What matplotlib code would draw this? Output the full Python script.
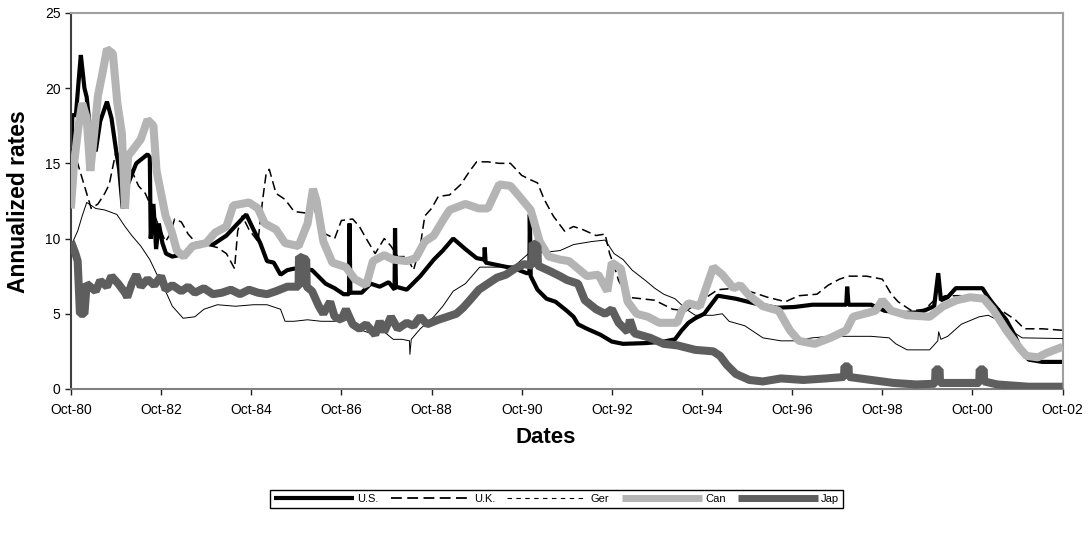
import numpy as np
import matplotlib
matplotlib.use("Agg")
import matplotlib.pyplot as plt
from matplotlib.lines import Line2D

plt.rcParams['font.family'] = ['Liberation Sans', 'DejaVu Sans']

# decimal-year breakpoints, one pair of arrays per country
us_t = [1980.75, 1980.78, 1980.86, 1980.93, 1980.97, 1981.05, 1981.1, 1981.2, 1981.3, 1981.4,
        1981.55, 1981.65, 1981.75, 1981.82, 1981.9, 1982.0, 1982.2, 1982.45, 1982.5, 1982.52,
        1982.58, 1982.64, 1982.7, 1982.78, 1982.86, 1983.0, 1983.3, 1983.6, 1983.9, 1984.2,
        1984.45, 1984.64, 1984.8, 1984.95, 1985.1, 1985.25, 1985.4, 1985.55, 1985.7, 1985.9,
        1986.1, 1986.4, 1986.6, 1986.8, 1986.92, 1986.93, 1986.95, 1987.2, 1987.4, 1987.6,
        1987.8, 1987.93, 1987.94, 1987.96, 1988.2, 1988.5, 1988.8, 1989.0, 1989.23, 1989.5,
        1989.75, 1989.92, 1989.93, 1989.95, 1990.27, 1990.6, 1990.86, 1990.92, 1990.93, 1990.95,
        1991.1, 1991.3, 1991.5, 1991.75, 1991.9, 1992.0, 1992.2, 1992.5, 1992.75, 1993.0,
        1993.5, 1993.9, 1994.15, 1994.3, 1994.45, 1994.6, 1994.8, 1995.1, 1995.5, 1995.9,
        1996.4, 1996.8, 1997.2, 1997.6, 1997.95, 1997.97, 1998.0, 1998.5, 1998.8, 1999.2,
        1999.6, 1999.9, 1999.99, 2000.05, 2000.2, 2000.38, 2000.97, 2001.1, 2001.2, 2001.5,
        2001.7, 2001.85, 2002.0, 2002.3, 2002.75]
us_v = [12.5, 18.2, 18.2, 20.8, 22.2, 20.0, 19.4, 16.5, 15.8, 17.8,
        19.1, 18.0, 15.9, 14.6, 12.0, 13.5, 15.0, 15.6, 15.4, 10.0,
        12.3, 9.3, 11.0, 9.7, 9.0, 8.8, 9.0, 9.7, 9.6, 10.2,
        11.0, 11.6, 10.6, 9.7, 8.5, 8.4, 7.6, 7.9, 8.0, 8.0,
        7.9, 7.0, 6.7, 6.3, 6.3, 11.0, 6.4, 6.4, 7.0, 6.8,
        7.1, 6.6, 10.7, 6.8, 6.6, 7.5, 8.6, 9.2, 10.0, 9.3,
        8.7, 8.6, 9.4, 8.4, 8.2, 8.0, 7.7, 7.7, 11.6, 7.5,
        6.6, 6.0, 5.8, 5.2, 4.8, 4.3, 4.0, 3.6, 3.15, 3.0,
        3.05, 3.15, 3.3, 3.9, 4.4, 4.7, 5.0, 6.2, 6.0, 5.7,
        5.4, 5.45, 5.6, 5.6, 5.6, 6.8, 5.6, 5.6, 5.2, 5.05,
        5.1, 5.5, 7.7, 5.9, 6.1, 6.7, 6.7, 6.1, 5.7, 4.6,
        3.5, 2.4, 1.95, 1.8, 1.8]

uk_t = [1980.75, 1980.9, 1981.05, 1981.2, 1981.35, 1981.5, 1981.6, 1981.75, 1981.9, 1982.1,
        1982.25, 1982.4, 1982.55, 1982.7, 1982.85, 1982.95, 1983.05, 1983.2, 1983.35, 1983.5,
        1983.75, 1984.0, 1984.2, 1984.38, 1984.45, 1984.55, 1984.7, 1984.9, 1985.0, 1985.08,
        1985.15, 1985.3, 1985.5, 1985.7, 1985.95, 1986.1, 1986.25, 1986.4, 1986.6, 1986.75,
        1987.0, 1987.15, 1987.3, 1987.5, 1987.7, 1987.85, 1988.0, 1988.2, 1988.35, 1988.5,
        1988.6, 1988.75, 1988.9, 1989.15, 1989.4, 1989.6, 1989.75, 1990.0, 1990.25, 1990.5,
        1990.75, 1990.95, 1991.1, 1991.25, 1991.45, 1991.7, 1991.9, 1992.1, 1992.4, 1992.6,
        1992.7, 1992.8, 1992.9, 1993.1, 1993.4, 1993.7, 1993.9, 1994.1, 1994.4, 1994.6,
        1994.8, 1995.1, 1995.5, 1995.9, 1996.2, 1996.6, 1996.9, 1997.3, 1997.55, 1997.8,
        1998.0, 1998.4, 1998.75, 1998.95, 1999.1, 1999.4, 1999.7, 1999.9, 2000.15, 2000.5,
        2000.9, 2001.15, 2001.45, 2001.7, 2001.9, 2002.3, 2002.75]
uk_v = [16.0, 15.0, 13.5, 12.0, 12.3, 13.0, 13.6, 15.8, 15.3, 14.5,
        13.5, 13.0, 12.0, 10.8, 9.8, 10.3, 11.3, 11.1, 10.3, 9.8,
        9.6, 9.4, 9.0, 8.0, 10.5, 11.5, 10.6, 9.8, 12.5, 14.3,
        14.6, 13.0, 12.6, 11.8, 11.7, 12.5, 11.0, 10.3, 10.0, 11.2,
        11.3, 10.8, 10.0, 9.0, 10.0, 9.5, 8.8, 8.8, 7.9, 9.5,
        11.5, 12.0, 12.8, 12.9, 13.6, 14.5, 15.1, 15.1, 15.0, 15.0,
        14.2, 13.9, 13.7, 12.6, 11.5, 10.5, 10.8, 10.6, 10.2, 10.3,
        9.0, 8.2, 7.2, 6.1, 6.0, 5.9, 5.6, 5.3, 5.2, 5.6,
        6.0, 6.6, 6.7, 6.4, 6.1, 5.8, 6.2, 6.3, 6.9, 7.3,
        7.5, 7.5, 7.3, 6.3, 5.8, 5.2, 5.3, 5.9, 6.2, 6.2,
        6.0, 5.7, 5.1, 4.6, 4.0, 4.0, 3.9]

ger_t = [1980.75, 1980.9, 1981.0, 1981.1, 1981.3, 1981.5, 1981.77, 1981.95, 1982.1, 1982.3,
         1982.5, 1982.66, 1982.88, 1983.0, 1983.24, 1983.5, 1983.7, 1984.0, 1984.4, 1984.8,
         1985.1, 1985.4, 1985.5, 1985.7, 1986.0, 1986.3, 1986.6, 1986.9, 1987.1, 1987.4,
         1987.7, 1987.9, 1988.1, 1988.26, 1988.27, 1988.3, 1988.5, 1988.8, 1989.0, 1989.23,
         1989.5, 1989.82, 1990.2, 1990.6, 1990.9, 1991.3, 1991.6, 1991.9, 1992.3, 1992.6,
         1992.8, 1993.0, 1993.2, 1993.5, 1993.7, 1993.9, 1994.15, 1994.4, 1994.6, 1995.0,
         1995.2, 1995.35, 1995.7, 1996.1, 1996.5, 1996.8, 1997.2, 1997.6, 1998.0, 1998.5,
         1998.9, 1999.05, 1999.3, 1999.8, 1999.98, 2000.0, 2000.05, 2000.2, 2000.5, 2000.9,
         2001.1, 2001.3, 2001.7, 2001.85, 2002.75]
ger_v = [9.5, 10.5, 11.5, 12.4, 12.0, 11.9, 11.6, 10.8, 10.2, 9.5,
         8.6, 7.6, 6.3, 5.5, 4.7, 4.8, 5.3, 5.6, 5.5, 5.6,
         5.6, 5.3, 4.5, 4.5, 4.6, 4.5, 4.5, 4.6, 4.0, 3.7,
         3.8, 3.3, 3.3, 3.2, 2.3, 3.3, 4.0, 4.8, 5.5, 6.5,
         7.0, 8.1, 8.1, 8.2, 9.0, 9.1, 9.2, 9.6, 9.8, 9.9,
         9.0, 8.6, 7.9, 7.2, 6.7, 6.3, 6.0, 5.3, 4.9, 4.9,
         5.0, 4.5, 4.2, 3.4, 3.2, 3.2, 3.4, 3.5, 3.5, 3.5,
         3.4, 3.0, 2.6, 2.6, 3.2, 3.8, 3.3, 3.5, 4.3, 4.8,
         4.9, 4.6, 3.7, 3.4, 3.35]

can_t = [1980.75, 1980.82, 1980.92, 1981.0, 1981.1, 1981.18, 1981.25, 1981.35, 1981.45, 1981.55,
         1981.68, 1981.78, 1981.88, 1981.95, 1982.02, 1982.15, 1982.3, 1982.45, 1982.58, 1982.65,
         1982.75, 1982.85, 1982.98, 1983.1, 1983.25, 1983.45, 1983.75, 1983.95, 1984.2, 1984.35,
         1984.7, 1984.9, 1985.05, 1985.3, 1985.5, 1985.8, 1986.0, 1986.12, 1986.2, 1986.35,
         1986.55, 1986.85, 1987.05, 1987.3, 1987.45, 1987.7, 1987.9, 1988.2, 1988.4, 1988.6,
         1988.8, 1989.0, 1989.15, 1989.5, 1989.8, 1990.0, 1990.25, 1990.5, 1990.7, 1990.95,
         1991.15, 1991.35, 1991.6, 1991.8, 1992.0, 1992.2, 1992.45, 1992.65, 1992.75, 1992.95,
         1993.1, 1993.3, 1993.55, 1993.8, 1994.2, 1994.3, 1994.45, 1994.7, 1995.0, 1995.2,
         1995.45, 1995.6, 1995.8, 1996.1, 1996.45, 1996.7, 1996.9, 1997.25, 1997.6, 1997.95,
         1998.1, 1998.6, 1998.75, 1998.95, 1999.3, 1999.8, 2000.1, 2000.4, 2000.7, 2001.0,
         2001.2, 2001.5, 2001.8, 2001.95, 2002.2, 2002.4, 2002.75]
can_v = [12.0, 15.0, 17.5, 19.0, 18.0, 14.5, 16.5, 19.5, 21.0, 22.6,
         22.3, 19.0, 17.0, 12.0, 15.5, 16.0, 16.6, 17.9, 17.5, 14.5,
         13.0, 11.5, 10.5, 9.2, 8.8, 9.5, 9.7, 10.4, 10.8, 12.2,
         12.4, 12.0, 11.0, 10.6, 9.7, 9.5, 11.0, 13.3, 12.5, 9.8,
         8.4, 8.1, 7.3, 6.9, 8.5, 8.9, 8.6, 8.5, 8.7, 9.8,
         10.2, 11.2, 11.9, 12.3, 12.0, 12.0, 13.6, 13.5, 12.8, 11.9,
         9.8, 8.8, 8.6, 8.5, 8.0, 7.5, 7.6, 6.5, 8.4, 8.0,
         5.8, 5.0, 4.8, 4.4, 4.4, 5.2, 5.7, 5.5, 8.1, 7.6,
         6.7, 6.9, 6.2, 5.5, 5.2, 3.9, 3.2, 3.0, 3.4, 3.9,
         4.8, 5.2, 5.9, 5.2, 4.9, 4.8, 5.5, 5.9, 6.1, 6.0,
         5.3, 3.9, 2.7, 2.2, 2.1, 2.4, 2.8]

jap_t = [1980.75, 1980.85, 1980.9, 1980.95, 1981.05, 1981.1, 1981.3, 1981.4, 1981.55, 1981.65,
         1981.8, 1981.95, 1982.0, 1982.1, 1982.2, 1982.3, 1982.45, 1982.6, 1982.75, 1982.85,
         1983.0, 1983.2, 1983.35, 1983.5, 1983.7, 1983.9, 1984.1, 1984.3, 1984.5, 1984.7,
         1984.9, 1985.1, 1985.3, 1985.55, 1985.8, 1985.81, 1985.97, 1985.98, 1986.1, 1986.25,
         1986.35, 1986.5, 1986.6, 1986.75, 1986.85, 1987.0, 1987.15, 1987.3, 1987.5, 1987.6,
         1987.7, 1987.85, 1988.0, 1988.2, 1988.35, 1988.5, 1988.65, 1988.9, 1989.1, 1989.3,
         1989.45, 1989.6, 1989.8, 1990.0, 1990.2, 1990.4, 1990.6, 1990.8, 1990.98, 1990.99,
         1991.1, 1991.11, 1991.4, 1991.6, 1991.75, 1992.0, 1992.15, 1992.4, 1992.6, 1992.75,
         1992.9, 1993.1, 1993.15, 1993.25, 1993.6, 1993.9, 1994.2, 1994.6, 1995.0, 1995.15,
         1995.3, 1995.5, 1995.8, 1996.1, 1996.5, 1997.0, 1997.5, 1997.9, 1997.91, 1998.0,
         1998.01, 1998.5, 1999.0, 1999.5, 1999.92, 1999.93, 2000.02, 2000.03, 2000.6, 2000.9,
         2000.91, 2001.0, 2001.01, 2001.3, 2002.0, 2002.75]
jap_v = [9.8, 9.0, 8.5, 5.0, 5.0, 7.0, 6.5, 7.2, 6.8, 7.5,
         7.0, 6.4, 6.1, 7.0, 7.6, 6.8, 7.3, 6.9, 7.5, 6.6,
         6.9, 6.5, 6.8, 6.4, 6.7, 6.3, 6.4, 6.6, 6.3, 6.6,
         6.4, 6.3, 6.5, 6.8, 6.8, 8.8, 8.6, 6.8, 6.5, 5.5,
         5.0, 5.8, 4.8, 4.6, 5.3, 4.3, 4.0, 4.3, 3.6, 4.5,
         3.8, 4.8, 4.0, 4.4, 4.2, 4.8, 4.3, 4.6, 4.8, 5.0,
         5.4, 5.9, 6.6, 7.0, 7.4, 7.6, 8.0, 8.3, 8.2, 9.7,
         9.5, 8.2, 7.8, 7.5, 7.25, 7.0, 5.9, 5.3, 5.0, 5.3,
         4.4, 3.8, 4.6, 3.7, 3.4, 3.0, 2.9, 2.6, 2.5, 2.2,
         1.6, 1.0, 0.6, 0.5, 0.7, 0.6, 0.7, 0.8, 1.5, 1.5,
         0.8, 0.6, 0.4, 0.3, 0.35, 1.3, 1.3, 0.4, 0.4, 0.4,
         1.3, 1.3, 0.5, 0.3, 0.15, 0.15]

tick_years = [1980.75, 1982.75, 1984.75, 1986.75, 1988.75, 1990.75,
              1992.75, 1994.75, 1996.75, 1998.75, 2000.75, 2002.75]
tick_labels = ['Oct-80', 'Oct-82', 'Oct-84', 'Oct-86', 'Oct-88', 'Oct-90',
               'Oct-92', 'Oct-94', 'Oct-96', 'Oct-98', 'Oct-00', 'Oct-02']
series_names = ['U.S.', 'U.K.', 'Ger', 'Can', 'Jap']

can_col = '#b4b4b4'
jap_col = '#5e5e5e'
thick = dict(solid_joinstyle='bevel', solid_capstyle='butt')

fig = plt.figure(figsize=(10.91, 5.38), dpi=100)
ax = fig.add_axes([0.065, 0.277, 0.909, 0.699])

ax.plot(us_t, us_v, color='black', lw=3.0, zorder=2, **thick)
ax.plot(uk_t, uk_v, color='black', lw=1.1, dashes=(6, 3), zorder=3)
ax.plot(ger_t, ger_v, color='black', lw=0.7, zorder=4)
ax.plot(can_t, can_v, color=can_col, lw=5.8, zorder=5, **thick)
ax.plot(jap_t, jap_v, color=jap_col, lw=5.8, zorder=6, **thick)

ax.set_xlim(tick_years[0], tick_years[-1])
ax.set_ylim(0, 25)
ax.set_yticks([0, 5, 10, 15, 20, 25])
ax.set_xticks(tick_years)
ax.set_xticklabels(tick_labels)
ax.tick_params(axis='both', direction='out', labelsize=10, length=4, width=1, color='#202020')
ax.tick_params(axis='x', pad=6)

ax.spines['left'].set_color('#404040')
ax.spines['bottom'].set_color('#808080')
ax.spines['top'].set_color('#a0a0a0')
ax.spines['right'].set_color('#a0a0a0')
for s in ax.spines.values():
    s.set_linewidth(1.5)

fig.text(0.0165, 0.626, 'Annualized rates', rotation=90, ha='center', va='center',
         fontsize=16.5, fontweight='bold')
fig.text(0.5, 0.186, 'Dates', ha='center', va='center', fontsize=16, fontweight='bold')

handles = [
    Line2D([], [], color='black', lw=3.0, solid_capstyle='butt'),
    Line2D([], [], color='black', lw=1.3, dashes=(6, 3)),
    Line2D([], [], color='black', lw=0.8, dashes=(4, 4)),
    Line2D([], [], color=can_col, lw=5.0, solid_capstyle='butt'),
    Line2D([], [], color=jap_col, lw=5.0, solid_capstyle='butt'),
]
leg = fig.legend(handles, series_names, loc='center', bbox_to_anchor=(0.51, 0.0725),
                 ncol=5, fontsize=8, handlelength=7.2, handletextpad=0.3,
                 columnspacing=1.1, borderpad=0.35, fancybox=False, framealpha=1)
leg.get_frame().set_edgecolor('black')
leg.get_frame().set_linewidth(1.0)

fig.savefig('out.png', dpi=100)
